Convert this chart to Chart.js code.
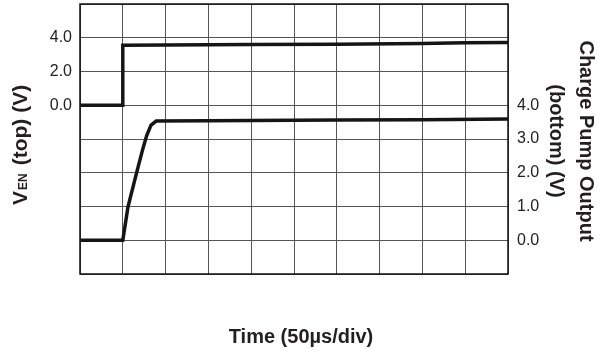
<!DOCTYPE html>
<html>
<head>
<meta charset="utf-8">
<script src="https://cdn.jsdelivr.net/npm/chart.js@4/dist/chart.umd.min.js"></script>
<style>
  html, body { margin: 0; padding: 0; background: #fff; }
  canvas { display: block; }
</style>
</head>
<body>
<canvas id="chart" width="610" height="354"></canvas>
<script>
// time in µs (50 µs per division), voltages in V
const enTime = [0, 50, 50, 100, 200, 300, 400, 450, 500];
const enVolts = [0, 0, 3.56, 3.57, 3.6, 3.62, 3.66, 3.7, 3.72];

const cpTime = [0, 50, 56, 66, 73, 78, 83, 89, 150, 300, 400, 500];
const cpVolts = [0, 0, 0.98, 1.99, 2.67, 3.11, 3.41, 3.53, 3.54, 3.56, 3.57, 3.59];

const enTicks = [0, 2, 4];
const cpTicks = [0, 1, 2, 3, 4];

const FONT = "'Liberation Sans', Arial, Helvetica, sans-serif";
const INK = '#231f20';

function toPoints(xs, ys) {
  return xs.map((x, i) => ({ x: x, y: ys[i] }));
}

// y axes: no extra room above/below the plot for the (hidden) end labels
function noPad(s) {
  s.paddingTop = 0;
  s.paddingBottom = 0;
}

// frame + axis titles drawn by hand (subscript in the left title)
const decorations = {
  id: 'decorations',
  beforeDatasetsDraw(chart) {
    const { ctx, chartArea: a } = chart;
    ctx.save();
    ctx.strokeStyle = '#111';
    ctx.lineWidth = 1.5;
    ctx.strokeRect(a.left, a.top, a.right - a.left, a.bottom - a.top);
    ctx.restore();
  },
  afterDraw(chart) {
    const { ctx } = chart;
    ctx.save();
    ctx.fillStyle = INK;

    // bottom title
    ctx.font = 'bold 20px ' + FONT;
    ctx.textAlign = 'center';
    ctx.textBaseline = 'middle';
    ctx.fillText('Time (50µs/div)', 301, 337);

    // left title, reads bottom to top, pieces laid out one after another
    ctx.save();
    ctx.translate(27, 0);
    ctx.rotate(-Math.PI / 2);
    ctx.textBaseline = 'alphabetic';
    ctx.textAlign = 'left';
    const parts = [
      ['V', 21, 1],
      ['EN', 12, 8],
      ['(top)', 21, 6],
      ['(V)', 21, 0]
    ];
    let pos = -205;
    parts.forEach(([txt, size, gap]) => {
      ctx.font = 'bold ' + size + 'px ' + FONT;
      ctx.fillText(txt, pos, 0);
      pos += ctx.measureText(txt).width + gap;
    });
    ctx.restore();

    // right title, reads top to bottom
    ctx.save();
    ctx.rotate(Math.PI / 2);
    ctx.font = 'bold 20px ' + FONT;
    ctx.textAlign = 'center';
    ctx.textBaseline = 'middle';
    ctx.fillText('Charge Pump Output', 141, -586);
    ctx.fillText('(bottom) (V)', 141, -556);
    ctx.restore();

    ctx.restore();
  }
};

const ctx = document.getElementById('chart');
const chart = new Chart(ctx, {
  type: 'scatter',
  data: {
    datasets: [
      {
        label: 'VEN',
        data: toPoints(enTime, enVolts),
        yAxisID: 'y',
        showLine: true,
        borderColor: '#151515',
        borderWidth: 3.5,
        pointRadius: 0,
        tension: 0
      },
      {
        label: 'Charge Pump Output',
        data: toPoints(cpTime, cpVolts),
        yAxisID: 'y2',
        showLine: true,
        borderColor: '#151515',
        borderWidth: 3.5,
        pointRadius: 0,
        tension: 0
      }
    ]
  },
  options: {
    responsive: false,
    animation: false,
    devicePixelRatio: 1,
    layout: { padding: { top: 4, left: 0, right: 0, bottom: 0 } },
    plugins: {
      legend: { display: false },
      tooltip: { enabled: false }
    },
    scales: {
      x: {
        type: 'linear',
        min: 0,
        max: 500,
        ticks: { display: false, stepSize: 50 },
        grid: { color: '#555', lineWidth: 1, drawTicks: false },
        border: { display: false },
        afterFit(s) { s.height = 80; s.paddingLeft = 0; s.paddingRight = 0; }
      },
      y: {
        position: 'left',
        min: -10,
        max: 6,
        ticks: {
          stepSize: 2,
          padding: 8,
          color: '#222',
          font: { family: FONT, size: 16 },
          callback: v => enTicks.includes(v) ? v.toFixed(1) : ''
        },
        grid: { color: '#555', lineWidth: 1, drawTicks: false },
        border: { display: false },
        afterFit(s) { s.width = 80; noPad(s); }
      },
      y2: {
        position: 'right',
        min: -1,
        max: 7,
        ticks: {
          stepSize: 1,
          padding: 9,
          color: '#222',
          font: { family: FONT, size: 16 },
          callback: v => cpTicks.includes(v) ? v.toFixed(1) : ''
        },
        grid: { drawOnChartArea: false, drawTicks: false },
        border: { display: false },
        afterFit(s) { s.width = 102; noPad(s); }
      }
    }
  },
  plugins: [decorations]
});
</script>
</body>
</html>
